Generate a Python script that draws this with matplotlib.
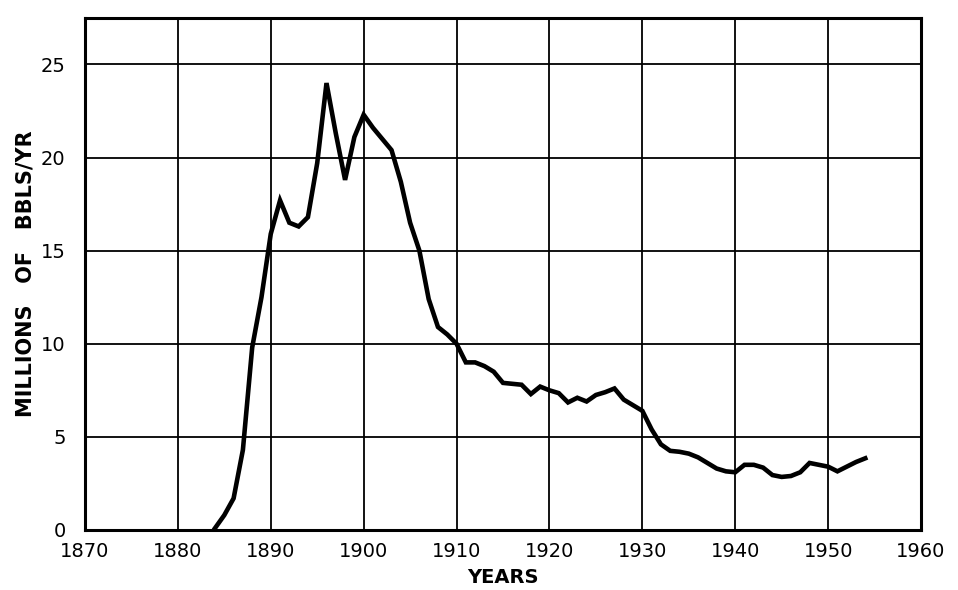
import numpy as np
import matplotlib.pyplot as plt

# annual production
years = np.arange(1884, 1955)
production = [
    0.1, 0.8, 1.7, 4.3, 9.8, 12.5,                  # 1884-1889
    15.9, 17.7, 16.5, 16.3, 16.8, 19.7, 24.0, 21.3, 18.8, 21.1,   # 1890s
    22.3, 21.6, 21.0, 20.4, 18.7, 16.5, 15.0, 12.4, 10.9, 10.5,   # 1900s
    10.0, 9.0, 9.0, 8.8, 8.5, 7.9, 7.85, 7.8, 7.3, 7.7,           # 1910s
    7.5, 7.35, 6.85, 7.1, 6.9, 7.25, 7.4, 7.6, 7.0, 6.7,          # 1920s
    6.4, 5.4, 4.6, 4.25, 4.2, 4.1, 3.9, 3.6, 3.3, 3.15,           # 1930s
    3.1, 3.5, 3.5, 3.35, 2.95, 2.85, 2.9, 3.1, 3.6, 3.5,          # 1940s
    3.4, 3.15, 3.4, 3.65, 3.85,                                   # 1950-1954
]

x_ticks = np.arange(1870, 1961, 10)
y_ticks = np.arange(0, 26, 5)

fig = plt.figure(figsize=(9.58, 5.9), dpi=100)
ax = fig.add_axes([0.0887, 0.1017, 0.8727, 0.868])

ax.plot(years, production, color='black', lw=3.3, solid_joinstyle='miter')

ax.set_xlim(1870, 1960)
ax.set_ylim(0, 27.5)
ax.set_xticks(x_ticks)
ax.set_yticks(y_ticks)
ax.grid(True, color='black', lw=1.3)
ax.set_axisbelow(True)
ax.tick_params(length=0, labelsize=14, pad=9)
ax.tick_params(axis='y', pad=14)
for s in ax.spines.values():
    s.set_linewidth(2.2)

ax.set_xlabel('YEARS', fontsize=14, fontweight='bold', labelpad=5)
ax.set_ylabel('MILLIONS   OF   BBLS/YR', fontsize=15, fontweight='bold', labelpad=4)

fig.savefig('out.png', dpi=100)
